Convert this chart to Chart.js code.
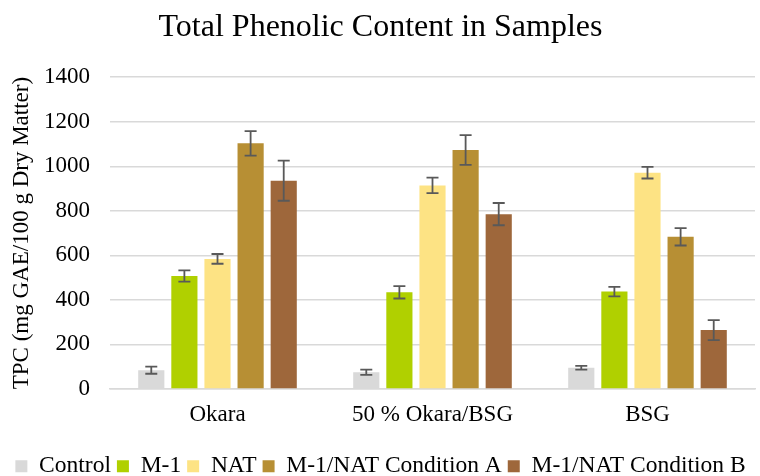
<!DOCTYPE html>
<html>
<head>
<meta charset="utf-8">
<script src="https://cdn.jsdelivr.net/npm/chart.js@4"></script>
<style>
  html, body { margin: 0; padding: 0; background: #fff; }
</style>
</head>
<body>
<canvas id="tpcChart" width="760" height="476"></canvas>
<script>
const categories = ['Okara', '50 % Okara/BSG', 'BSG'];
const seriesNames = ['Control', 'M-1', 'NAT', 'M-1/NAT Condition A', 'M-1/NAT Condition B'];
const control = [84, 75, 95];
const m1 = [507, 434, 437];
const nat = [584, 914, 971];
const condA = [1103, 1073, 683];
const condB = [935, 785, 264];
// error (± standard deviation) per series
const controlErr = [16, 12, 8];
const m1Err = [25, 28, 21];
const natErr = [22, 35, 26];
const condAErr = [55, 67, 39];
const condBErr = [90, 50, 45];
const yTicks = [0, 200, 400, 600, 800, 1000, 1200, 1400];

const colors = ['#D9D9D9', '#B0D000', '#FDE384', '#B78F34', '#9E673B'];
const allValues = [control, m1, nat, condA, condB];
const allErrors = [controlErr, m1Err, natErr, condAErr, condBErr];

const serif = "'Liberation Serif', 'Times New Roman', serif";

// draws the error bars using the bar elements and the y scale
const errorBars = {
    id: 'errorBars',
    afterDatasetsDraw(chart) {
        const ctx = chart.ctx;
        const y = chart.scales.y;
        ctx.save();
        ctx.strokeStyle = '#595959';
        ctx.lineWidth = 1.8;
        chart.data.datasets.forEach(function(ds, i) {
            const meta = chart.getDatasetMeta(i);
            meta.data.forEach(function(bar, j) {
                const v = ds.data[j];
                const e = ds.errors[j];
                const top = y.getPixelForValue(v + e);
                const bot = y.getPixelForValue(v - e);
                const x = bar.x;
                ctx.beginPath();
                ctx.moveTo(x, top); ctx.lineTo(x, bot);
                ctx.moveTo(x - 6, top); ctx.lineTo(x + 6, top);
                ctx.moveTo(x - 6, bot); ctx.lineTo(x + 6, bot);
                ctx.stroke();
            });
        });
        ctx.restore();
    }
};

const ctx = document.getElementById('tpcChart').getContext('2d');
new Chart(ctx, {
    type: 'bar',
    data: {
        labels: categories,
        datasets: seriesNames.map(function(name, i) {
            return {
                label: name,
                data: allValues[i],
                errors: allErrors[i],
                backgroundColor: colors[i],
                borderWidth: 0,
                categoryPercentage: 0.77,
                barPercentage: 0.79
            };
        })
    },
    options: {
        responsive: false,
        animation: false,
        devicePixelRatio: 1,
        layout: { padding: { left: 6, right: 5, top: 0, bottom: -12 } },
        plugins: {
            title: {
                display: true,
                text: 'Total Phenolic Content in Samples',
                color: '#000',
                font: { family: serif, size: 32, weight: 'normal', lineHeight: 1.1 },
                padding: { top: 10, bottom: 32 }
            },
            legend: {
                position: 'bottom',
                labels: {
                    color: '#000',
                    font: { family: serif, size: 23.5 },
                    boxWidth: 12,
                    boxHeight: 12,
                    padding: 6
                }
            },
            tooltip: { enabled: false }
        },
        scales: {
            x: {
                grid: { display: false, drawTicks: false },
                border: { color: '#D9D9D9', width: 1.5 },
                ticks: {
                    color: '#000',
                    font: { family: serif, size: 23 },
                    padding: 12,
                    maxRotation: 0
                },
                afterFit: function(scale) { scale.height += 8; }
            },
            y: {
                min: 0,
                max: 1400,
                afterBuildTicks: function(axis) {
                    axis.ticks = yTicks.map(function(v) { return { value: v }; });
                },
                afterFit: function(scale) { scale.width = 104; },
                grid: { color: '#D9D9D9', lineWidth: 1.5, drawTicks: false },
                border: { display: false },
                ticks: {
                    color: '#000',
                    font: { family: serif, size: 23 },
                    padding: 20,
                    callback: function(v) { return String(v); }
                },
                title: {
                    display: true,
                    text: 'TPC (mg GAE/100 g Dry Matter)',
                    color: '#000',
                    font: { family: serif, size: 23 },
                    padding: { top: 2, bottom: 4 }
                }
            }
        }
    },
    plugins: [errorBars]
});
</script>
</body>
</html>
